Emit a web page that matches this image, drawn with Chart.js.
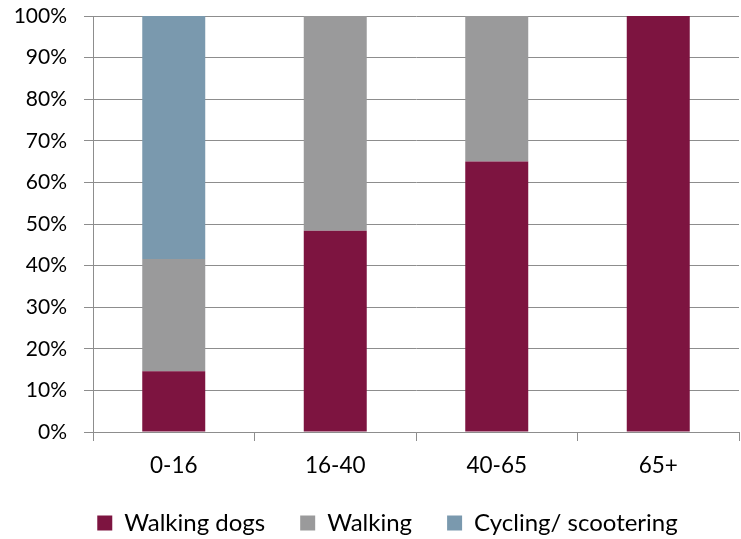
<!DOCTYPE html>
<html>
<head>
<meta charset="utf-8">
<script src="https://cdn.jsdelivr.net/npm/chart.js@4/dist/chart.umd.min.js"></script>
<style>
  html, body { margin: 0; padding: 0; background: #ffffff; }
  #wrap { width: 741px; height: 539px; }
</style>
</head>
<body>
<div id="wrap"><canvas id="c" width="741" height="539"></canvas></div>
<script>
const categories = ['0-16', '16-40', '40-65', '65+'];
const walkingDogs = [14.6, 48.4, 65, 100];
const walking = [27, 51.6, 35, 0];
const cycling = [58.4, 0, 0, 0];
const seriesNames = ['Walking dogs', 'Walking', 'Cycling/ scootering'];
const yMin = 0, yMax = 100, yStep = 10;

const FONT = 'Lato, "Open Sans", sans-serif';
const GRID = '#8d8d8d';

const legendPlacePlugin = {
  id: 'legendPlace',
  beforeLayout(chart) {
    const lg = chart.legend;
    if (lg && !lg._patched) {
      const origFit = lg.fit;
      lg.fit = function () { origFit.call(this); this.height = 63; };
      const origDraw = lg.draw;
      lg.draw = function () {
        const ctx = this.ctx;
        ctx.save();
        ctx.translate(18, 0);
        origDraw.call(this);
        ctx.restore();
      };
      lg._patched = true;
    }
  }
};

new Chart(document.getElementById('c'), {
  type: 'bar',
  data: {
    labels: categories,
    datasets: [
      { label: seriesNames[0], data: walkingDogs, backgroundColor: '#7d1440' },
      { label: seriesNames[1], data: walking, backgroundColor: '#9a9a9b' },
      { label: seriesNames[2], data: cycling, backgroundColor: '#7a99ae' }
    ]
  },
  plugins: [legendPlacePlugin],
  options: {
    responsive: false,
    animation: false,
    layout: { padding: { top: 0, right: 2, left: 0, bottom: 0 } },
    datasets: { bar: { categoryPercentage: 1, barPercentage: 0.39 } },
    scales: {
      x: {
        stacked: true,
        afterFit: (s) => { s.height = 44; },
        grid: { display: true, drawOnChartArea: false, drawTicks: true, offset: true, tickLength: 9, color: GRID, lineWidth: 1 },
        border: { display: true, color: GRID, width: 1 },
        ticks: { color: '#000', padding: 11, font: { family: FONT, size: 22.5, lineHeight: 1.2 } }
      },
      y: {
        stacked: true,
        min: yMin,
        max: yMax,
        afterFit: (s) => { s.width = 93; s.paddingTop = 16; s.paddingBottom = 0; },
        grid: { display: true, drawOnChartArea: true, drawTicks: true, tickLength: 9, color: GRID, lineWidth: 1 },
        border: { display: true, color: GRID, width: 1 },
        ticks: { stepSize: yStep, color: '#000', padding: 17, font: { family: FONT, size: 21, lineHeight: 1.2 }, callback: (v) => v + '%' }
      }
    },
    plugins: {
      tooltip: { enabled: false },
      legend: {
        position: 'bottom',
        labels: { boxWidth: 15, boxHeight: 15, padding: 35, color: '#000', font: { family: FONT, size: 24 } }
      }
    }
  }
});
</script>
</body>
</html>
